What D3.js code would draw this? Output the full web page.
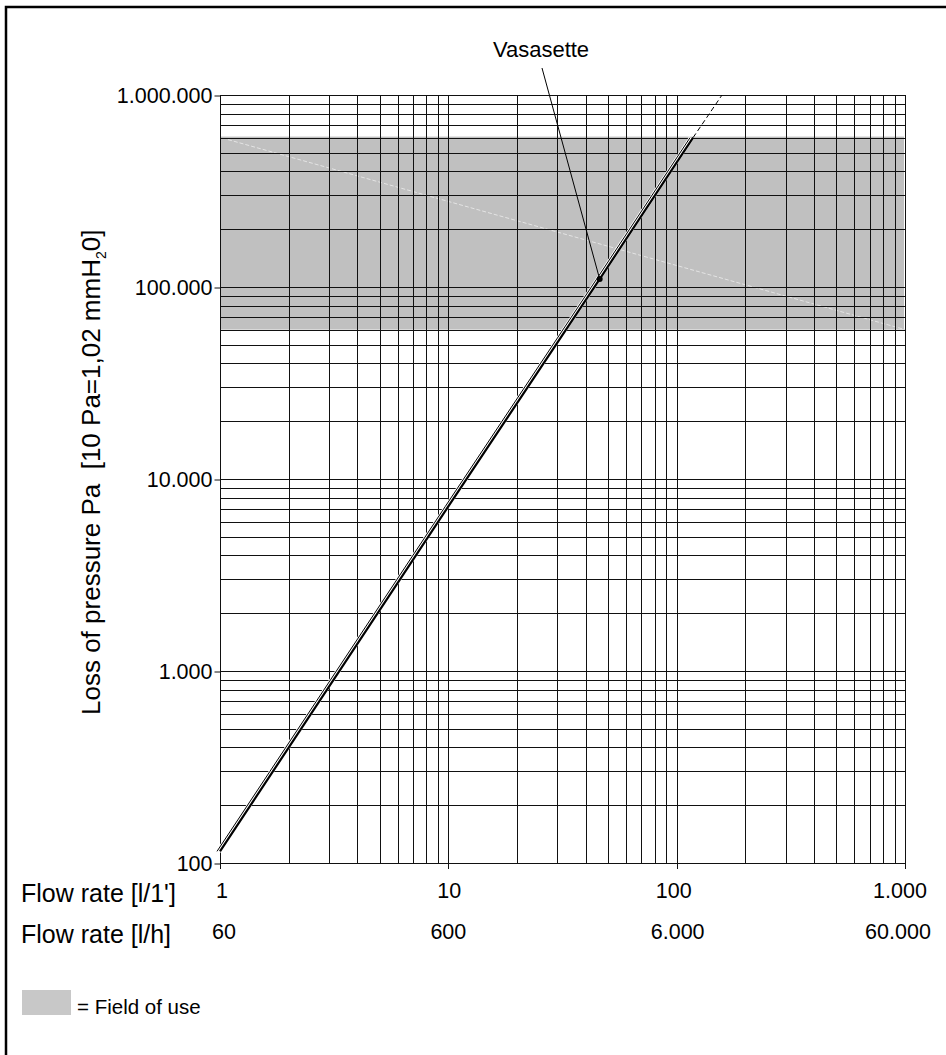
<!DOCTYPE html>
<html>
<head>
<meta charset="utf-8">
<script src="https://cdn.jsdelivr.net/npm/d3@7"></script>
<style>
  html, body { margin: 0; padding: 0; background: #fff; overflow: hidden; }
  svg { display: block; font-family: "Liberation Sans", Arial, sans-serif; }
</style>
</head>
<body>
<svg id="chart" width="946" height="1055"></svg>
<script>
// flow rate in l/min vs. loss of pressure in Pa
const flowLmin = [1, 10, 46, 118];
const pressurePa = [115, 7200, 110000, 600000];

// dashed extension above the field of use
const flowExt = [118, 158];
const pressureExt = [600000, 1000000];

// the marked point "Vasasette"
const markFlow = 46;
const markPressure = 110000;
const markLabel = 'Vasasette';

// field of use band
const bandFlow = [1, 1000];
const bandPressure = [60000, 600000];

// ticks
const xTicks = [1, 10, 100, 1000];
const xTickLabels = ['1', '10', '100', '1.000'];
const xTickLabelsLh = ['60', '600', '6.000', '60.000'];
const yTicks = [100, 1000, 10000, 100000, 1000000];
const yTickLabels = ['100', '1.000', '10.000', '100.000', '1.000.000'];

const svg = d3.select('#chart');

const plotLeft = 220, plotRight = 905, plotTop = 95, plotBottom = 863;

const x = d3.scaleLog().domain([1, 1000]).range([plotLeft, plotRight]);
const y = d3.scaleLog().domain([100, 1000000]).range([plotBottom, plotTop]);

// outer frame (only top and left edge are on the page)
svg.append('path')
  .attr('d', 'M6,1055 V7 H946')
  .attr('fill', 'none')
  .attr('stroke', '#000')
  .attr('stroke-width', 2.5);

// field of use band
svg.append('rect')
  .attr('x', x(bandFlow[0]) + 1)
  .attr('y', y(bandPressure[1]) - 1)
  .attr('width', x(bandFlow[1]) - x(bandFlow[0]) - 2)
  .attr('height', y(bandPressure[0]) - y(bandPressure[1]) + 1)
  .attr('fill', '#c0c0c0');

// faint diagonal inside the band
svg.append('line')
  .attr('x1', x(bandFlow[0]) + 8).attr('y1', y(bandPressure[1]) + 2)
  .attr('x2', x(bandFlow[1])).attr('y2', y(bandPressure[0]))
  .attr('stroke', '#e4e4e4')
  .attr('stroke-width', 1)
  .attr('stroke-dasharray', '4,2');

// grid
const grid = svg.append('g').attr('stroke', '#111').attr('stroke-width', 1);
grid.selectAll('.vline')
  .data(x.ticks())
  .enter()
  .append('line')
    .attr('x1', d => Math.round(x(d)) + 0.5)
    .attr('x2', d => Math.round(x(d)) + 0.5)
    .attr('y1', plotTop)
    .attr('y2', plotBottom);
grid.selectAll('.hline')
  .data(y.ticks())
  .enter()
  .append('line')
    .attr('y1', d => Math.round(y(d)) + 0.5)
    .attr('y2', d => Math.round(y(d)) + 0.5)
    .attr('x1', plotLeft)
    .attr('x2', plotRight);

// y axis
const yAxis = d3.axisLeft(y)
  .tickValues(yTicks)
  .tickSize(6)
  .tickPadding(2)
  .tickFormat((d, i) => yTickLabels[i]);
svg.append('g')
  .attr('transform', `translate(${plotLeft + 0.5},0.5)`)
  .call(yAxis)
  .call(g => g.select('.domain').remove())
  .call(g => g.selectAll('line').attr('stroke', '#111'))
  .call(g => g.selectAll('text')
    .attr('font-family', '"Liberation Sans", Arial, sans-serif')
    .attr('font-size', 21.5)
    .attr('fill', '#000'));

// x axis ticks (below)
svg.append('g')
  .selectAll('line')
  .data(xTicks)
  .enter()
  .append('line')
    .attr('x1', d => Math.round(x(d)) + 0.5)
    .attr('x2', d => Math.round(x(d)) + 0.5)
    .attr('y1', plotBottom)
    .attr('y2', plotBottom + 6)
    .attr('stroke', '#111');

// x tick labels, two rows
const xl = svg.append('g').attr('font-size', 21.5).attr('text-anchor', 'middle');
xl.selectAll('.l1')
  .data(xTicks)
  .enter()
  .append('text')
    .attr('x', (d, i) => x(d) + [2, 1, -3, -5][i])
    .attr('y', 898)
    .text((d, i) => xTickLabels[i]);
xl.selectAll('.l2')
  .data(xTicks)
  .enter()
  .append('text')
    .attr('x', (d, i) => x(d) + [4, 0, 1, -7][i])
    .attr('y', 939)
    .text((d, i) => xTickLabelsLh[i]);

svg.append('text')
  .attr('x', 21).attr('y', 902)
  .attr('font-size', 25)
  .text("Flow rate [l/1']");
svg.append('text')
  .attr('x', 21).attr('y', 943)
  .attr('font-size', 25)
  .text('Flow rate [l/h]');

// y axis title
const yTitle = svg.append('text')
  .attr('transform', 'translate(100,715) rotate(-90)')
  .attr('font-size', 26);
yTitle.append('tspan').text('Loss of pressure Pa\u00a0\u00a0[10 Pa=1,02 mmH');
yTitle.append('tspan').attr('font-size', 14).attr('dy', 6).text('2');
yTitle.append('tspan').attr('dy', -6).text('0]');

// curve
const points = flowLmin.map((f, i) => [f, pressurePa[i]]);
const ext = flowExt.map((f, i) => [f, pressureExt[i]]);
const line = d3.line().x(d => x(d[0])).y(d => y(d[1]));

svg.append('path')
  .attr('d', line(points))
  .attr('fill', 'none')
  .attr('stroke', '#fff')
  .attr('stroke-width', 5)
  .attr('transform', 'translate(-1.5,0)');
svg.append('path')
  .attr('d', line(points))
  .attr('fill', 'none')
  .attr('stroke', '#000')
  .attr('stroke-width', 1)
  .attr('transform', 'translate(-3,0)');
svg.append('path')
  .attr('d', line(points))
  .attr('fill', 'none')
  .attr('stroke', '#000')
  .attr('stroke-width', 2.2);

svg.append('path')
  .attr('d', line(ext))
  .attr('fill', 'none')
  .attr('stroke', '#000')
  .attr('stroke-width', 1)
  .attr('stroke-dasharray', '5,3');

// annotation
const mx = x(markFlow), my = y(markPressure);
svg.append('line')
  .attr('x1', 542).attr('y1', 68)
  .attr('x2', mx).attr('y2', my)
  .attr('stroke', '#000')
  .attr('stroke-width', 1);
svg.append('circle')
  .attr('cx', mx).attr('cy', my)
  .attr('r', 3)
  .attr('fill', '#000');
svg.append('text')
  .attr('x', 541).attr('y', 57)
  .attr('text-anchor', 'middle')
  .attr('font-size', 22)
  .text(markLabel);

// legend
svg.append('rect')
  .attr('x', 22).attr('y', 990)
  .attr('width', 49).attr('height', 25)
  .attr('fill', '#c8c8c8');
svg.append('text')
  .attr('x', 77).attr('y', 1014)
  .attr('font-size', 20.5)
  .text('= Field of use');
</script>
</body>
</html>
